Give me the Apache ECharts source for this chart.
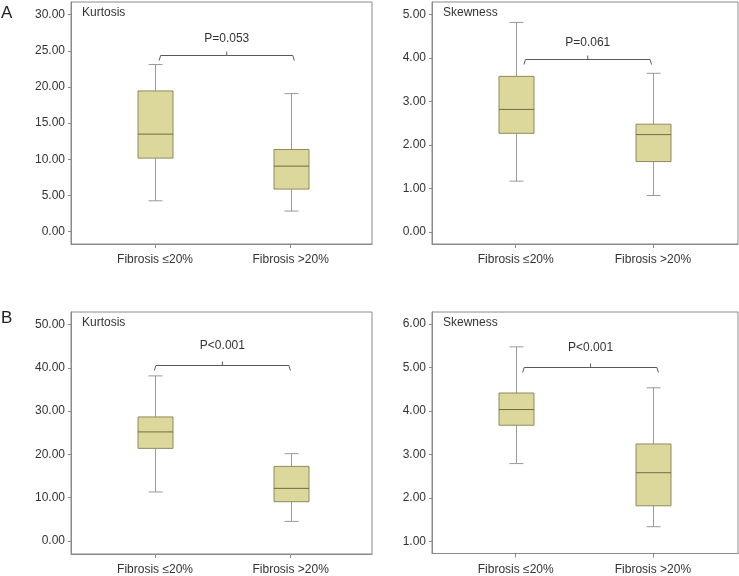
<!DOCTYPE html>
<html>
<head>
<meta charset="utf-8">
<script src="https://cdn.jsdelivr.net/npm/echarts@6/dist/echarts.min.js"></script>
<style>
html,body{margin:0;padding:0;background:#fff;}
#chart{width:739px;height:576px;}
</style>
</head>
<body>
<div id="chart"></div>
<script>
// ---------- data ----------
const categories = ['Fibrosis \u226420%', 'Fibrosis >20%'];
const panelLetters = ['A', 'B'];
const panelTitles = ['Kurtosis', 'Skewness', 'Kurtosis', 'Skewness'];
// each box: [min, Q1, median, Q3, max]
const kurtosisA = [[4.24, 10.15, 13.47, 19.45, 23.1], [2.82, 5.86, 9.04, 11.34, 19.08]];
const skewnessA = [[1.17, 2.27, 2.82, 3.58, 4.82], [0.84, 1.62, 2.24, 2.48, 3.65]];
const kurtosisB = [[11.33, 21.4, 25.2, 28.66, 38.14], [4.53, 9.08, 12.16, 17.24, 20.18]];
const skewnessB = [[2.79, 3.67, 4.03, 4.41, 5.47], [1.34, 1.82, 2.58, 3.24, 4.53]];
// y-axis tick labels
const yTicksKurtA = [0, 5, 10, 15, 20, 25, 30];
const yTicksSkewA = [0, 1, 2, 3, 4, 5];
const yTicksKurtB = [0, 10, 20, 30, 40, 50];
const yTicksSkewB = [1, 2, 3, 4, 5, 6];
// significance brackets: [from x, to x, height]
const bracketKurtA = [0.03, 1.027, 24.43];
const bracketSkewA = [0.06, 0.99, 3.98];
const bracketKurtB = [-0.005, 0.998, 40.6];
const bracketSkewB = [0.051, 1.04, 5.0];
const pLabels = ['P=0.053', 'P=0.061', 'P<0.001', 'P<0.001'];

// ---------- layout / style ----------
const panels = [
  {box: kurtosisA, ticks: yTicksKurtA, bracket: bracketKurtA, grid: {left: 71, top: 2, width: 301, height: 242}, yMin: -1.74, yMax: 31.76, xMin: -0.62, xMax: 1.6, pOff: 17},
  {box: skewnessA, ticks: yTicksSkewA, bracket: bracketSkewA, grid: {left: 432, top: 2, width: 306, height: 242}, yMin: -0.276, yMax: 5.29, xMin: -0.61, xMax: 1.62, pOff: 17},
  {box: kurtosisB, ticks: yTicksKurtB, bracket: bracketKurtB, grid: {left: 71, top: 312, width: 301, height: 242}, yMin: -3.0, yMax: 52.9, xMin: -0.62, xMax: 1.6, pOff: 20},
  {box: skewnessB, ticks: yTicksSkewB, bracket: bracketSkewB, grid: {left: 432, top: 312, width: 306, height: 241.5}, yMin: 0.725, yMax: 6.27, xMin: -0.61, xMax: 1.62, pOff: 20}
];

const FONT = '"Liberation Sans", Arial, sans-serif';
const frameColor = '#8a8a8a';
const boxFill = '#dcd89c';
const boxBorder = '#8d8a5e';
const medianColor = '#6f6c42';
const whiskerColor = '#9a9a9a';
const bracketColor = '#5a5a5a';
const textColor = '#333333';

const grids = [], xAxes = [], yAxes = [], series = [], graphics = [];

panels.forEach((p, i) => {
  grids.push(Object.assign({show: true, borderColor: frameColor, borderWidth: 1, backgroundColor: 'transparent', containLabel: false}, p.grid));
  xAxes.push({
    type: 'value', gridIndex: i, min: p.xMin, max: p.xMax, position: 'bottom',
    axisLine: {show: true, onZero: false, lineStyle: {color: frameColor}},
    axisTick: {show: true, length: 4, customValues: [0, 1], lineStyle: {color: frameColor}},
    axisLabel: {show: true, customValues: [0, 1], margin: 10, fontSize: 12, fontFamily: FONT, color: textColor,
      formatter: v => categories[Math.round(v)]},
    splitLine: {show: false}
  });
  yAxes.push({
    type: 'value', gridIndex: i, min: p.yMin, max: p.yMax, position: 'left',
    axisLine: {show: true, onZero: false, lineStyle: {color: frameColor}},
    axisTick: {show: true, length: 3, customValues: p.ticks, lineStyle: {color: frameColor}},
    axisLabel: {show: true, customValues: p.ticks, margin: 6, fontSize: 12, fontFamily: FONT, color: textColor,
      formatter: v => Number(v).toFixed(2)},
    splitLine: {show: false}
  });
  // boxes
  series.push({
    type: 'custom', xAxisIndex: i, yAxisIndex: i, silent: true,
    data: p.box.map((b, k) => [k].concat(b)),
    encode: {x: 0, y: [1, 2, 3, 4, 5]},
    renderItem: function (params, api) {
      const x = api.value(0);
      const pMin = api.coord([x, api.value(1)]);
      const pQ1 = api.coord([x, api.value(2)]);
      const pMed = api.coord([x, api.value(3)]);
      const pQ3 = api.coord([x, api.value(4)]);
      const pMax = api.coord([x, api.value(5)]);
      const cx = Math.round(pMed[0]) + 0.5;
      const bw = 35, cw = 14;
      const ls = {stroke: whiskerColor, lineWidth: 1};
      return {type: 'group', children: [
        {type: 'line', shape: {x1: cx, y1: pMax[1], x2: cx, y2: pQ3[1]}, style: ls},
        {type: 'line', shape: {x1: cx, y1: pQ1[1], x2: cx, y2: pMin[1]}, style: ls},
        {type: 'line', shape: {x1: cx - cw / 2, y1: pMax[1], x2: cx + cw / 2, y2: pMax[1]}, style: ls},
        {type: 'line', shape: {x1: cx - cw / 2, y1: pMin[1], x2: cx + cw / 2, y2: pMin[1]}, style: ls},
        {type: 'rect', shape: {x: cx - bw / 2, y: pQ3[1], width: bw, height: pQ1[1] - pQ3[1]},
          style: {fill: boxFill, stroke: boxBorder, lineWidth: 1}},
        {type: 'line', shape: {x1: cx - bw / 2, y1: pMed[1], x2: cx + bw / 2, y2: pMed[1]},
          style: {stroke: medianColor, lineWidth: 1}}
      ]};
    }
  });
  // bracket with p label
  series.push({
    type: 'custom', xAxisIndex: i, yAxisIndex: i, silent: true,
    data: [[p.bracket[0], p.bracket[1], p.bracket[2]]],
    encode: {x: [0, 1], y: 2},
    renderItem: function (params, api) {
      const a = api.coord([api.value(0), api.value(2)]);
      const b = api.coord([api.value(1), api.value(2)]);
      const y = Math.round(a[1]) + 0.5;
      const mid = (a[0] + b[0]) / 2;
      return {type: 'group', children: [
        {type: 'polyline', shape: {points: [[a[0], y + 5], [a[0] + 1.5, y], [b[0] - 1.5, y], [b[0], y + 5]]},
          style: {stroke: bracketColor, lineWidth: 1, fill: null}},
        {type: 'line', shape: {x1: mid, y1: y, x2: mid, y2: y - 4}, style: {stroke: bracketColor, lineWidth: 1}},
        {type: 'text', x: mid, y: y - p.pOff,
          style: {text: pLabels[i], fill: textColor, font: '12px ' + FONT, align: 'center', verticalAlign: 'middle'}}
      ]};
    }
  });
  graphics.push({type: 'text', left: p.grid.left + 11, top: p.grid.top + 5,
    style: {text: panelTitles[i], fill: textColor, font: '12px ' + FONT}});
});

graphics.push({type: 'text', left: 1, top: 5, style: {text: panelLetters[0], fill: '#222', font: '17px ' + FONT}});
graphics.push({type: 'text', left: 1, top: 310, style: {text: panelLetters[1], fill: '#222', font: '17px ' + FONT}});

const chart = echarts.init(document.getElementById('chart'), null, {renderer: 'canvas'});
chart.setOption({
  animation: false,
  backgroundColor: '#fff',
  grid: grids,
  xAxis: xAxes,
  yAxis: yAxes,
  series: series,
  graphic: graphics
});
</script>
</body>
</html>
